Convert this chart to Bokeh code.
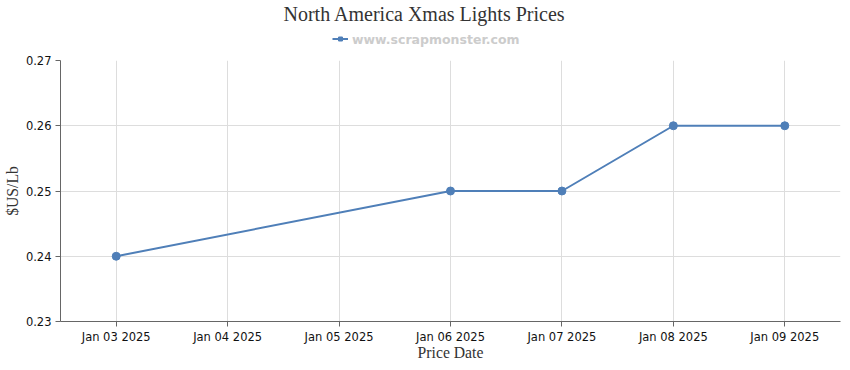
from datetime import datetime
from bokeh.plotting import figure
from bokeh.layouts import column
from bokeh.models import (Range1d, DatetimeTickFormatter, DaysTicker, FixedTicker,
                          Legend, LegendItem, ColumnDataSource)
from bokeh.embed import file_html
from bokeh.resources import INLINE

dates = ["2025-01-03", "2025-01-06", "2025-01-07", "2025-01-08", "2025-01-09"]
prices = [0.24, 0.25, 0.25, 0.26, 0.26]
y_ticks = [0.23, 0.24, 0.25, 0.26, 0.27]
series_name = "www.scrapmonster.com"
title_text = "North America Xmas Lights  Prices"

x = [datetime.strptime(d, "%Y-%m-%d") for d in dates]
src = ColumnDataSource(dict(x=x, y=prices))
line_col = "#4F7FB8"

# ---- header: title + legend ----
h = figure(width=842, height=53, output_backend="svg", toolbar_location=None,
           x_range=Range1d(0, 1), y_range=Range1d(0, 1),
           min_border=0, min_border_top=5, x_axis_location=None, y_axis_location=None)
h.grid.visible = False
h.outline_line_color = None
h.title.text = title_text
h.title.text_font = "Liberation Serif"
h.title.text_font_size = "20px"
h.title.text_font_style = "normal"
h.title.text_color = "#333333"
h.title.align = "left"
h.title.offset = 223
h.title.standoff = 0
hl = h.line("x", "y", source=src, line_color=line_col, line_width=2)
hs = h.scatter("x", "y", source=src, marker="square", size=7,
               fill_color=line_col, line_color=line_col)
legend = Legend(items=[LegendItem(label=series_name, renderers=[hl, hs])],
                orientation="horizontal", location="left",
                border_line_color=None, background_fill_alpha=0,
                label_text_font="DejaVu Sans", label_text_font_style="bold",
                label_text_font_size="12.5px", label_text_color="#cccccc",
                glyph_width=16, glyph_height=10, padding=0, margin=272,
                label_standoff=4, spacing=0, label_height=14)
h.add_layout(legend, "center")

# ---- main chart ----
p = figure(width=842, height=310, output_backend="svg", toolbar_location=None,
           x_axis_type="datetime",
           x_range=Range1d(datetime(2025, 1, 2, 12), datetime(2025, 1, 9, 12)),
           y_range=Range1d(0.23, 0.27),
           min_border_left=60, min_border_right=2, min_border_bottom=41, min_border_top=7)
p.outline_line_color = None

p.line("x", "y", source=src, line_color=line_col, line_width=2)
p.scatter("x", "y", source=src, size=8, fill_color=line_col, line_color=line_col)

p.xaxis.ticker = DaysTicker(days=list(range(1, 32)))
p.xaxis.formatter = DatetimeTickFormatter(days="%b %d %Y", months="%b %d %Y")
p.yaxis.ticker = FixedTicker(ticks=y_ticks)
p.yaxis.formatter.use_scientific = False

for ax in (p.xaxis, p.yaxis):
    ax.major_label_text_font = "DejaVu Sans"
    ax.major_label_text_font_size = "11.5px"
    ax.major_label_text_color = "#111111"
    ax.axis_line_color = "#666666"
    ax.major_tick_line_color = "#666666"
    ax.minor_tick_line_color = None
    ax.major_tick_in = 0
    ax.major_tick_out = 5
    ax.axis_label_text_font = "Liberation Serif"
    ax.axis_label_text_font_size = "15.7px"
    ax.axis_label_text_font_style = "normal"
    ax.axis_label_text_color = "#333333"

p.xaxis.axis_label = "Price Date"
p.yaxis.axis_label = "$US/Lb"
p.xaxis.axis_label_standoff = -3
p.yaxis.axis_label_standoff = 2
p.xaxis.major_label_standoff = 3
p.yaxis.major_label_standoff = 4

p.xgrid.grid_line_color = "#dddddd"
p.ygrid.grid_line_color = "#dddddd"

layout = column(h, p, spacing=0)
open("out.html", "w").write(file_html(layout, INLINE))
